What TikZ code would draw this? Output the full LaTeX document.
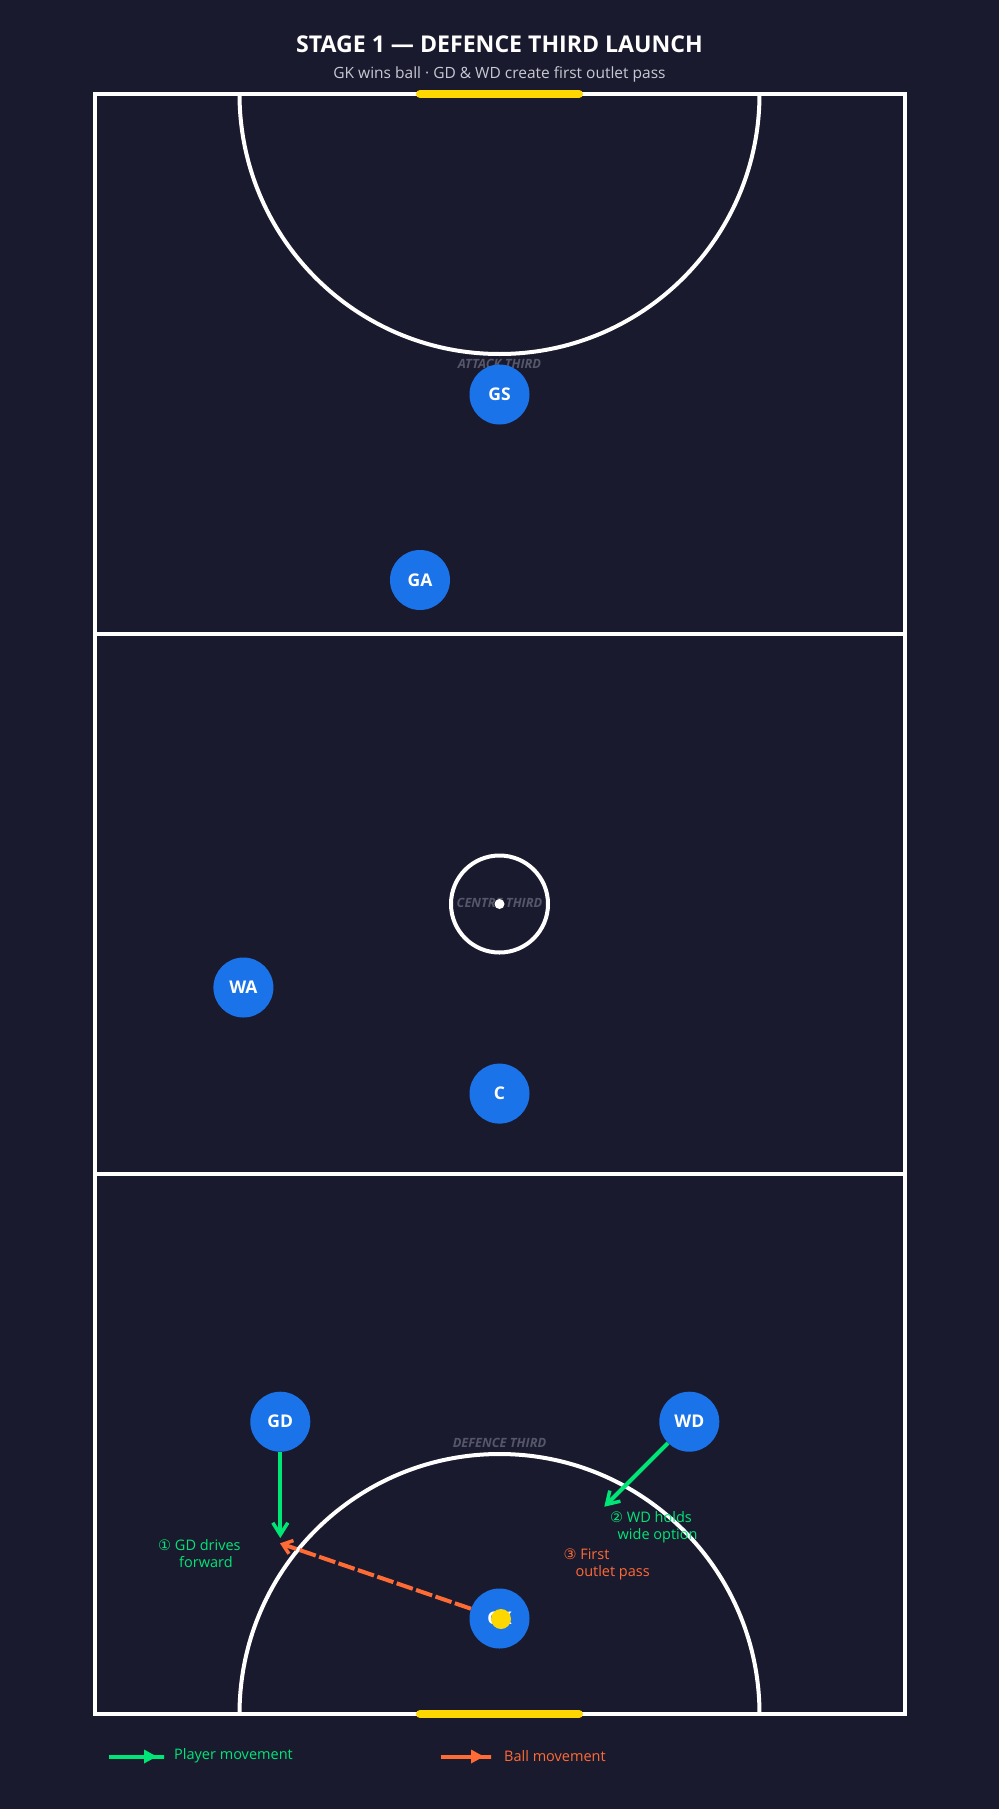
\documentclass[tikz,border=0pt]{standalone}
\usepackage{fontspec}
\setmainfont{Open Sans}
\newfontfamily\symfont{DejaVu Sans}
\usepackage{tikz}
\usetikzlibrary{arrows.meta}

\definecolor{bgnavy}{HTML}{1A1A2E}
\definecolor{playerblue}{HTML}{1A73E8}
\definecolor{movegreen}{HTML}{00E676}
\definecolor{ballorange}{HTML}{FF6B35}
\definecolor{postyellow}{HTML}{FFD700}
\definecolor{thirdgray}{HTML}{55566A}
\definecolor{subgray}{HTML}{C8C8D4}

\begin{document}
\begin{tikzpicture}[x=1pt,y=-1pt,
    court line/.style={draw=white,line width=4pt},
    player/.style={circle,fill=playerblue,minimum size=60pt,inner sep=0pt,
                   text=white,font=\fontsize{17.5}{18}\selectfont\bfseries},
    third label/.style={text=thirdgray,font=\fontsize{12.8}{13}\selectfont\bfseries\itshape},
    move/.style={draw=movegreen,line width=4pt,
                 -{Straight Barb[length=12pt,width=15pt,line width=3.5pt]}},
    pass/.style={draw=ballorange,line width=4pt,dash pattern=on 17pt off 3.5pt,
                 -{Straight Barb[length=9pt,width=14pt,line width=3.5pt]}},
    note/.style={font=\fontsize{14.5}{17}\selectfont,align=left,inner sep=0pt,anchor=west},
    key/.style={line width=4pt,-{Triangle[length=13pt,width=13pt] Rectangle[length=9pt,width=4pt]}}]

  % page and background
  \fill[bgnavy] (0,0) rectangle (999,1809);
  \useasboundingbox (0,0) rectangle (999,1809);

  % title
  \node (title) at (499.5,44) [text=white,font=\fontsize{23.1}{25}\selectfont\bfseries]
    {STAGE 1 — DEFENCE THIRD LAUNCH};
  \node (subtitle) at (499.5,74) [text=subgray,font=\fontsize{15.5}{17}\selectfont]
    {GK wins ball · GD \& WD create first outlet pass};

  % court
  \begin{scope}
    \clip (94.5,94) rectangle (904.5,1714);
    \draw[court line] (499.5,94) circle[radius=260pt];
    \draw[court line] (499.5,1714) circle[radius=260pt];
  \end{scope}
  \draw[court line] (94.5,94) rectangle (904.5,1714);
  \draw[court line] (94.5,634) -- (904.5,634);
  \draw[court line] (94.5,1174) -- (904.5,1174);
  \draw[court line] (499.5,904) circle[radius=48.5pt];

  % goal posts
  \draw[postyellow,line width=8pt,line cap=round] (420,94) -- (579,94);
  \draw[postyellow,line width=8pt,line cap=round] (420,1714) -- (579,1714);

  % third labels
  \node[third label] (attack) at (499.5,364) {ATTACK THIRD};
  \node[third label] (centre) at (499.5,903) {CENTRE THIRD};
  \node[third label] (defence) at (499.5,1443) {DEFENCE THIRD};
  \fill[white] (499.5,904) circle[radius=5pt];

  % players
  \node[player] (GS) at (499.5,394.5) {GS};
  \node[player] (GA) at (420,580) {GA};
  \node[player] (WA) at (243.4,987.5) {WA};
  \node[player] (C) at (499.5,1093.6) {C};
  \node[player] (GD) at (280.3,1421.7) {GD};
  \node[player] (WD) at (689.3,1421.7) {WD};
  \node[player] (GK) at (499.5,1618.5) {GK};

  % runs and pass
  \coordinate (gd run) at (280.3,1538);
  \coordinate (wd run) at (604.3,1506.7);
  \coordinate (pass end) at (280,1543.3);
  \path
    (GD) edge [move] (gd run)
    (WD) edge [move] (wd run)
    (GK) edge [pass] (pass end);

  % ball
  \fill[postyellow] (501,1619) circle[radius=10pt];

  % notes
  \node[note,text=movegreen] (gd note) at (158,1553.5)
    {{\symfont ①} GD drives\\\hspace*{21pt}forward};
  \node[note,text=movegreen] (wd note) at (610,1527)
    {{\symfont ②} WD holds\\\hspace*{7.5pt}wide option};
  \node[note,text=ballorange] (pass note) at (563.3,1564.2)
    {{\symfont ③} First\\\hspace*{12pt}outlet pass};

  % legend
  \coordinate (key1 a) at (109,1756.5);
  \coordinate (key1 b) at (166,1756.5);
  \coordinate (key2 a) at (440.5,1756.5);
  \coordinate (key2 b) at (493,1756.5);
  \draw[key,movegreen] (key1 a) -- (key1 b);
  \draw[key,ballorange] (key2 a) -- (key2 b);
  \node[note,text=movegreen] (key1 text) at (174,1756) {Player movement};
  \node[note,text=ballorange] (key2 text) at (504,1756) {Ball movement};
\end{tikzpicture}
\end{document}
